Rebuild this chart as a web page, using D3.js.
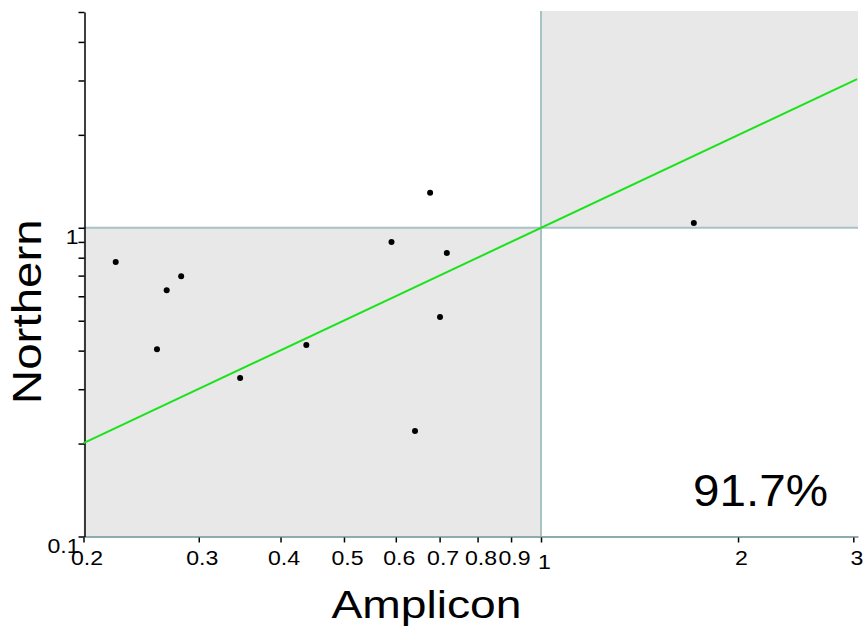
<!DOCTYPE html>
<html>
<head>
<meta charset="utf-8">
<script src="https://cdn.jsdelivr.net/npm/d3@7"></script>
<style>
  html, body { margin: 0; padding: 0; background: #fff; }
  svg { display: block; }
  text { font-family: "Liberation Sans", Arial, Helvetica, sans-serif; fill: #000; }
</style>
</head>
<body>
<svg id="chart" width="864" height="633"></svg>
<script>
// ---- data ----
const amplicon = [0.224, 0.268, 0.282, 0.259, 0.347, 0.438, 0.591, 0.677, 0.718, 0.701, 0.642, 1.712];
const northern = [0.775, 0.628, 0.697, 0.404, 0.326, 0.417, 0.900, 1.298, 0.829, 0.514, 0.2195, 1.037];
const fitX = [0.2, 3.04];
const fitY = [0.2007, 3.03];
const xTicks = [0.2, 0.3, 0.4, 0.5, 0.6, 0.7, 0.8, 0.9, 1, 2, 3];
const yTicks = [0.1, 0.2, 0.3, 0.4, 0.5, 0.6, 0.7, 0.8, 0.9, 1, 2, 3, 4, 5];
const yLabelled = [0.1, 1];
const xTitle = "Amplicon";
const yTitle = "Northern";
const concordance = "91.7%";

const svg = d3.select("#chart");
const x = d3.scaleLog().domain([0.2, 3.05]).range([83.5, 858]);
const y = d3.scaleLog().domain([0.1, 5]).range([536.5, 12]);

const shade = "#e8e8e8";
const refCol = "#a9c3c5";

// quadrant shading
svg.append("rect")
  .attr("x", x(0.2)).attr("y", y(1))
  .attr("width", x(1) - x(0.2)).attr("height", y(0.1) - y(1))
  .attr("fill", shade);
svg.append("rect")
  .attr("x", x(1)).attr("y", y(5) - 1)
  .attr("width", x(3.05) - x(1)).attr("height", y(1) - y(5) + 1)
  .attr("fill", shade);

// reference lines at 1
svg.append("line")
  .attr("x1", x(1)).attr("x2", x(1)).attr("y1", y(5) - 1).attr("y2", y(0.1))
  .attr("stroke", refCol).attr("stroke-width", 2);
svg.append("line")
  .attr("x1", x(0.2)).attr("x2", x(3.05)).attr("y1", y(1)).attr("y2", y(1))
  .attr("stroke", refCol).attr("stroke-width", 2);

// x axis
const xAxis = d3.axisBottom(x).tickValues(xTicks).tickSize(5).tickSizeOuter(0)
  .tickFormat(d => String(d));
const gx = svg.append("g").attr("transform", `translate(0,${y(0.1)})`).call(xAxis);
gx.select(".domain").attr("stroke", "#8fabab").attr("stroke-width", 2);
gx.selectAll(".tick line").attr("stroke", "#000").attr("stroke-width", 1.5).attr("y1", 1).attr("y2", 6);
gx.selectAll(".tick text")
  .attr("dy", null).attr("y", null)
  .attr("font-size", 21)
  .attr("font-family", null)
  .attr("transform", d => `translate(3,${d === 1 ? 32 : 28}) scale(1.1,1)`);

// y axis
const yAxis = d3.axisLeft(y).tickValues(yTicks).tickSize(6).tickSizeOuter(0)
  .tickFormat(d => yLabelled.includes(d) ? String(d) : "");
const gy = svg.append("g").attr("transform", `translate(84.5,0)`).call(yAxis);
gy.select(".domain").attr("stroke", "#000").attr("stroke-width", 1.5);
gy.selectAll(".tick line").attr("stroke", "#000").attr("stroke-width", 1.5);
gy.selectAll(".tick text")
  .attr("dy", null).attr("x", null)
  .attr("font-size", 21)
  .attr("font-family", null)
  .attr("text-anchor", "end")
  .attr("transform", d => d === 0.1 ? "translate(-5,16) scale(1.1,1)" : "translate(-6,16) scale(1.1,1)");

// fit line
const fitData = fitX.map((v, i) => [v, fitY[i]]);
svg.append("path")
  .datum(fitData)
  .attr("d", d3.line().x(d => x(d[0])).y(d => y(d[1])))
  .attr("fill", "none").attr("stroke", "#1be31b").attr("stroke-width", 2);

// points
svg.append("g").selectAll("circle")
  .data(amplicon.map((v, i) => [v, northern[i]]))
  .join("circle")
  .attr("cx", d => x(d[0])).attr("cy", d => y(d[1]))
  .attr("r", 3).attr("fill", "#000");

// titles
svg.append("text")
  .attr("x", 426.5).attr("y", 617.7)
  .attr("text-anchor", "middle").attr("font-size", 39)
  .attr("textLength", 190).attr("lengthAdjust", "spacingAndGlyphs")
  .text(xTitle);
svg.append("text")
  .attr("transform", "translate(41,311.7) rotate(-90)")
  .attr("text-anchor", "middle").attr("font-size", 40)
  .attr("textLength", 185).attr("lengthAdjust", "spacingAndGlyphs")
  .text(yTitle);
svg.append("text")
  .attr("x", 760.5).attr("y", 505.7)
  .attr("text-anchor", "middle").attr("font-size", 45)
  .attr("textLength", 135).attr("lengthAdjust", "spacingAndGlyphs")
  .text(concordance);
</script>
</body>
</html>
